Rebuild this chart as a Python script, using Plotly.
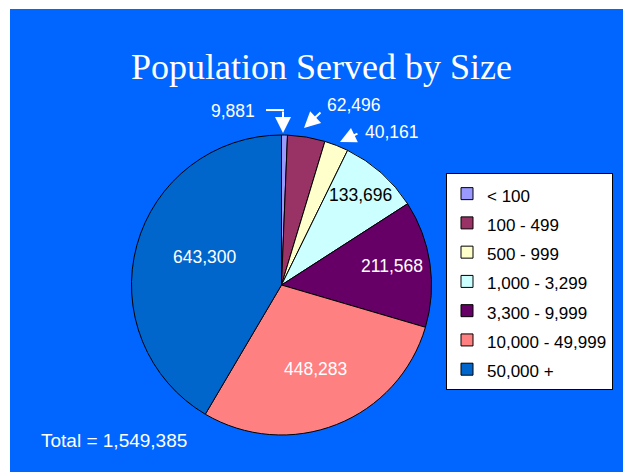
import math
import plotly.graph_objects as go

# Population served, grouped by water-system size
categories = ["< 100", "100 - 499", "500 - 999", "1,000 - 3,299",
              "3,300 - 9,999", "10,000 - 49,999", "50,000 +"]
population = [9881, 62496, 40161, 133696, 211568, 448283, 643300]
slice_colors = ["#9999FF", "#993366", "#FFFFCC", "#CCFFFF",
                "#660066", "#FF8080", "#0066CC"]

W, H = 623, 472
BG = "#0066FF"
SANS = "Liberation Sans, Arial, sans-serif"
SERIF = "Liberation Serif, Times New Roman, serif"

# pie geometry in pixels (centre and radius)
CX, CY, R = 281.5, 285.0, 150.0


def px(x):
    return x / W


def py(y):
    return 1 - y / H


total = sum(population)

# mid-angle of each slice, degrees clockwise from 12 o'clock
mid_angles = []
acc = 0
for v in population:
    mid_angles.append(360.0 * (acc + v / 2) / total)
    acc += v


def polar(angle_deg, rfrac):
    a = math.radians(angle_deg)
    return CX + rfrac * R * math.sin(a), CY - rfrac * R * math.cos(a)


# label placement: inside labels -> (angle nudge, radius fraction, colour)
inside_style = {
    3: (-0.2, 0.80, "#000000"),
    4: (-1.6, 0.747, "#FFFFFF"),
    5: (-0.7, 0.605, "#FFFFFF"),
    6: (4.8, 0.543, "#FFFFFF"),
}
# outside labels -> (angle nudge, tip radius, arrow tail offset, text offset, elbow length)
outside_style = {
    0: (-0.58, 1.013, (0, -23), (-50, -22), 17),
    1: (-1.4, 1.057, (18, -17), (50, -23), 0),
    2: (0.75, 1.03, (19, -9), (52, -10), 0),
}

fig = go.Figure()
fig.add_trace(go.Pie(
    labels=[f"<span style='font-size:17px'>{c}</span>" for c in categories],
    values=population,
    marker=dict(colors=slice_colors, line=dict(color="#000000", width=1)),
    sort=False,
    direction="clockwise",
    rotation=0,
    textinfo="none",
    hoverinfo="label+value+percent",
    domain=dict(x=[px(CX - R), px(CX + R)], y=[py(CY + R), py(CY - R)]),
))

annotations = []
shapes = [dict(type="rect", xref="paper", yref="paper",
               x0=px(10), x1=1, y0=0, y1=py(9),
               fillcolor=BG, line=dict(width=0), layer="below")]

for i, (nudge, rf, color) in inside_style.items():
    x, y = polar(mid_angles[i] + nudge, rf)
    annotations.append(dict(
        x=px(x), y=py(y), xref="paper", yref="paper",
        text=f"{population[i]:,}", showarrow=False,
        font=dict(family=SANS, size=17.5, color=color),
        xanchor="center", yanchor="middle"))

for i, (nudge, rf, tail, toff, elbow) in outside_style.items():
    tx, ty = polar(mid_angles[i] + nudge, rf)
    annotations.append(dict(
        x=px(tx), y=py(ty), xref="paper", yref="paper",
        text="", showarrow=True, ax=tail[0], ay=tail[1],
        arrowcolor="#FFFFFF", arrowwidth=2, arrowhead=2, arrowsize=1.6,
        standoff=0, startstandoff=0))
    annotations.append(dict(
        x=px(tx + toff[0]), y=py(ty + toff[1]), xref="paper", yref="paper",
        text=f"{population[i]:,}", showarrow=False,
        font=dict(family=SANS, size=17.5, color="#FFFFFF"),
        xanchor="center", yanchor="middle"))
    if elbow:
        bx, by = tx + tail[0], ty + tail[1]
        shapes.append(dict(type="line", xref="paper", yref="paper",
                           x0=px(bx - elbow), x1=px(bx + 1), y0=py(by), y1=py(by),
                           line=dict(color="#FFFFFF", width=2)))

# chart title
annotations.append(dict(
    x=px(321.5), y=py(67), xref="paper", yref="paper",
    text="Population Served by Size", showarrow=False,
    font=dict(family=SERIF, size=36, color="#FFFFFF"),
    xanchor="center", yanchor="middle"))

# grand total
annotations.append(dict(
    x=px(39), y=py(440), xref="paper", yref="paper",
    text=f"Total = {total:,}", showarrow=False,
    font=dict(family=SANS, size=19, color="#FFFFFF"),
    xanchor="left", yanchor="middle"))

fig.update_layout(
    width=W, height=H,
    margin=dict(l=0, r=0, t=0, b=0),
    paper_bgcolor="#FFFFFF",
    plot_bgcolor="#FFFFFF",
    showlegend=True,
    legend=dict(
        x=px(446), y=py(173), xanchor="left", yanchor="top",
        bgcolor="#FFFFFF", bordercolor="#000000", borderwidth=1,
        font=dict(family=SANS, size=20.2, color="#000000"),
        traceorder="normal",
    ),
    annotations=annotations,
    shapes=shapes,
)

fig.write_html("out.html")
